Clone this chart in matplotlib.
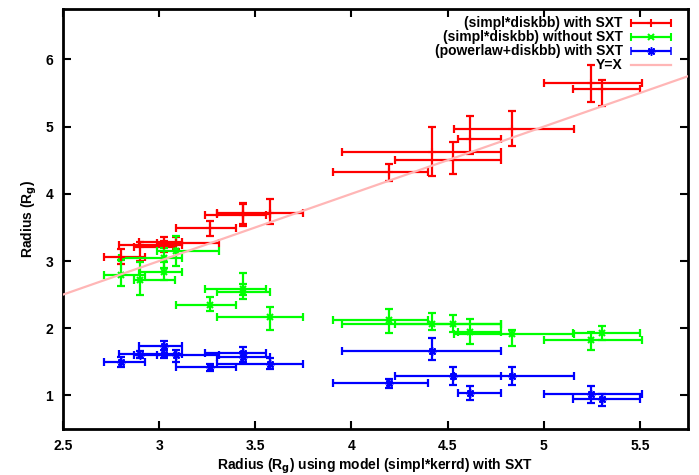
import numpy as np
import matplotlib
matplotlib.use("Agg")
import matplotlib.pyplot as plt
from matplotlib.legend_handler import HandlerErrorbar
from matplotlib.container import ErrorbarContainer

# radius from simpl*kerrd with SXT (shared x for every series)
x_val = [2.80, 2.90, 3.027, 3.027, 3.09, 3.263, 3.435, 3.435, 3.574,
         4.196, 4.42, 4.526, 4.618, 4.835, 5.246, 5.304]
x_lo = [2.715, 2.87, 2.79, 2.895, 2.99, 3.09, 3.237, 3.303, 3.303,
        3.905, 3.952, 4.226, 4.555, 4.533, 5.003, 5.153]
x_hi = [2.925, 3.08, 3.12, 3.12, 3.31, 3.40, 3.558, 3.579, 3.746,
        4.396, 4.776, 4.776, 4.776, 5.155, 5.512, 5.50]

# (simpl*diskbb) with SXT
red_y = [3.06, 3.21, 3.235, 3.29, 3.27, 3.484, 3.683, 3.70, 3.717,
         4.328, 4.626, 4.502, 4.81, 4.964, 5.645, 5.556]
red_lo = [2.96, 3.00, 3.13, 3.22, 3.18, 3.374, 3.52, 3.55, 3.55,
          4.19, 4.264, 4.293, 4.59, 4.715, 5.37, 5.31]
red_hi = [3.18, 3.28, 3.30, 3.36, 3.36, 3.60, 3.857, 3.85, 3.92,
          4.44, 5.0, 4.775, 5.16, 5.237, 5.91, 5.69]

# (simpl*diskbb) without SXT
green_y = [2.79, 2.72, 3.04, 2.84, 3.15, 2.35, 2.59, 2.54, 2.167,
           2.128, 2.07, 2.07, 1.94, 1.91, 1.82, 1.93]
green_lo = [2.63, 2.50, 2.90, 2.72, 2.93, 2.26, 2.50, 2.44, 1.97,
            1.93, 1.98, 1.95, 1.77, 1.73, 1.67, 1.82]
green_hi = [3.02, 2.98, 3.20, 2.98, 3.37, 2.465, 2.82, 2.66, 2.31,
            2.29, 2.23, 2.20, 2.13, 1.97, 1.95, 2.03]

# (powerlaw+diskbb) with SXT
blue_y = [1.50, 1.606, 1.62, 1.73, 1.596, 1.43, 1.63, 1.57, 1.47,
          1.19, 1.656, 1.283, 1.035, 1.283, 1.015, 0.945]
blue_lo = [1.43, 1.55, 1.56, 1.62, 1.50, 1.37, 1.57, 1.50, 1.40,
           1.11, 1.52, 1.16, 0.925, 1.16, 0.89, 0.836]
blue_hi = [1.57, 1.66, 1.68, 1.81, 1.67, 1.47, 1.72, 1.65, 1.55,
           1.25, 1.85, 1.43, 1.134, 1.43, 1.14, 1.015]

labels = ["(simpl*diskbb) with SXT", "(simpl*diskbb) without SXT",
          "(powerlaw+diskbb) with SXT"]

plt.rcParams['font.family'] = ['Liberation Sans', 'DejaVu Sans']
plt.rcParams['font.weight'] = 'bold'
plt.rcParams['mathtext.default'] = 'bf'

fig = plt.figure(figsize=(6.99, 4.75), dpi=100)
ax = fig.add_axes([0.0901, 0.0968, 0.8941, 0.8842])

xv = np.array(x_val)
xerr = [xv - np.array(x_lo), np.array(x_hi) - xv]

series = [
    (red_y, red_lo, red_hi, '#ff0000', '+', 6, 1.5),
    (green_y, green_lo, green_hi, '#00ff00', 'x', 5, 1.5),
    (blue_y, blue_lo, blue_hi, '#0000ff', (8, 2, 0), 6, 1.1),
]

handles = []
for (yv, ylo, yhi, col, mk, ms, mw), lab in zip(series, labels):
    yv = np.array(yv)
    yerr = [yv - np.array(ylo), np.array(yhi) - yv]
    ax.errorbar(xv, yv, xerr=xerr, yerr=yerr, fmt='none', ecolor=col,
                elinewidth=1.6, capsize=2.6, capthick=1.6, zorder=3)
    ax.plot(xv, yv, linestyle='none', marker=mk, color=col, ms=ms,
            mew=mw, zorder=4)
    # legend proxy: horizontal bar only, like the gnuplot key
    h = ax.errorbar([np.nan], [np.nan], xerr=[[np.nan], [np.nan]],
                    color=col, marker=mk, ms=ms, mew=mw, linestyle='none',
                    elinewidth=1.6, capsize=2.6, capthick=1.6, label=lab)
    handles.append(h)

line_x = np.array([2.5, 5.75])
yx, = ax.plot(line_x, line_x, color='#ffb6b6', lw=1.6, zorder=5, label='Y=X')
handles.append(yx)

ax.set_xlim(2.5, 5.75)
ax.set_ylim(0.5, 6.75)
ax.set_xticks([2.5, 3, 3.5, 4, 4.5, 5, 5.5])
ax.set_xticklabels(['2.5', '3', '3.5', '4', '4.5', '5', '5.5'])
ax.set_yticks([1, 2, 3, 4, 5, 6])

ax.tick_params(direction='in', length=6, width=1.5, top=True, right=True,
               labelsize=10, pad=7)
for sp in ax.spines.values():
    sp.set_linewidth(2)

ax.set_xlabel('Radius (R$_g$) using model (simpl*kerrd) with SXT',
              fontsize=10, fontweight='bold', labelpad=3)
ax.set_ylabel('Radius (R$_g$)', fontsize=10, fontweight='bold', labelpad=5)

ax.legend(handles=handles, labels=labels + ['Y=X'], loc='upper right',
          frameon=False, markerfirst=False, fontsize=10,
          handlelength=2.9, handletextpad=0.6, labelspacing=0.0,
          borderaxespad=0.9, borderpad=0.3, bbox_to_anchor=(1.0, 1.022),
          handler_map={ErrorbarContainer: HandlerErrorbar(xerr_size=1.45)})

fig.savefig('out.png', dpi=100)
